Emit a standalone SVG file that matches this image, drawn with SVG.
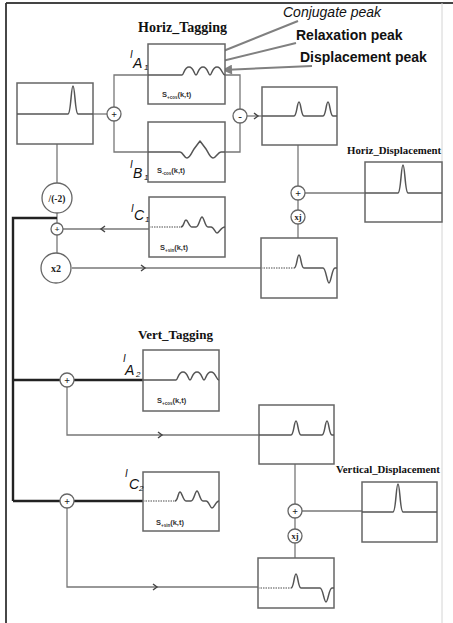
<svg xmlns="http://www.w3.org/2000/svg" width="453" height="623" viewBox="0 0 453 623">
<defs>
<style>
.box{fill:#fff;stroke:#666;stroke-width:1.5}
.sig{fill:none;stroke:#555;stroke-width:1.5;stroke-linejoin:round}
.dot{fill:none;stroke:#888;stroke-width:1.4;stroke-dasharray:1.5 1}
.con{fill:none;stroke:#777;stroke-width:1.3}
.thick{fill:none;stroke:#222;stroke-width:2.4}
.node{fill:#fff;stroke:#666;stroke-width:1.3}
.chev{fill:none;stroke:#444;stroke-width:1.4}
.ptr{fill:none;stroke:#808080;stroke-width:2}
.title{font-family:"Liberation Serif",serif;font-weight:bold;fill:#111}
.lab{font-family:"Liberation Sans",Arial,sans-serif;fill:#111}
.s{font-family:"Liberation Sans",Arial,sans-serif;font-weight:bold;font-size:7.5px;fill:#333}
.sub{font-size:4.5px}
.it{font-family:"Liberation Sans",Arial,sans-serif;font-style:italic;fill:#111}
.nl{font-family:"Liberation Serif",serif;font-weight:bold;fill:#222;text-anchor:middle}
</style>
<marker id="ah" viewBox="0 0 10 10" refX="9" refY="5" markerWidth="12" markerHeight="10" markerUnits="userSpaceOnUse" orient="auto">
<path d="M0,0 L10,5 L0,10 z" fill="#808080"/>
</marker>
</defs>
<rect width="453" height="623" fill="#fff"/>
<g id="frame">
<line x1="6" y1="3" x2="453" y2="3" stroke="#444" stroke-width="1.8"/>
<line x1="6" y1="3" x2="6" y2="623" stroke="#333" stroke-width="1.8"/>
<line x1="442" y1="3" x2="442" y2="623" stroke="#d4d4d4" stroke-width="1"/>
</g>

<g id="connectors">
<path class="con" d="M93,114 H107"/>
<path class="con" d="M114,107 V75 H148"/>
<path class="con" d="M114,121 V152 H148"/>
<path class="con" d="M225,75 H240 V109"/>
<path class="con" d="M225,152 H240 V123"/>
<path class="con" d="M247,116 H262"/>
<polyline class="chev" points="254,113 258,116 254,119"/>
<path class="con" d="M57,144 V183"/>
<path class="con" d="M57,213 V223"/>
<path class="con" d="M57,235 V253"/>
<path class="con" d="M149,229 H63"/>
<polyline class="chev" points="105,226 101,229 105,232"/>
<path class="con" d="M72,268 H261"/>
<polyline class="chev" points="141,265 145,268 141,271"/>
<path class="con" d="M298,145 V186"/>
<path class="con" d="M305,193 H365"/>
<path class="con" d="M298,200 V210"/>
<path class="con" d="M298,224 V238"/>
<path class="thick" d="M57,218 H13 V501"/>
<path class="thick" d="M13,380 H60"/>
<path class="thick" d="M74,380 H143"/>
<path class="thick" d="M13,501 H60"/>
<path class="thick" d="M74,501 H143"/>
<path class="con" d="M67,387 V435 H259"/>
<polyline class="chev" points="158,432 162,435 158,438"/>
<path class="con" d="M67,508 V587 H258"/>
<polyline class="chev" points="153,584 157,587 153,590"/>
<path class="con" d="M295,464 V504"/>
<path class="con" d="M302,511 H362"/>
<path class="con" d="M295,518 V529"/>
<path class="con" d="M295,543 V558"/>
<line class="ptr" x1="298" y1="21" x2="186" y2="66" marker-end="url(#ah)"/>
<line class="ptr" x1="296" y1="43" x2="210" y2="64" marker-end="url(#ah)"/>
<line class="ptr" x1="312" y1="66" x2="223" y2="70" marker-end="url(#ah)"/>
</g>

<g id="input">
<rect class="box" x="17" y="83" width="76" height="61"/>
<path class="sig" d="M17,114 H68 C71,114 71,86 73,86 C75,86 75,114 78,114 H93"/>
</g>

<g id="horiz-A1">
<rect class="box" x="148" y="44" width="77" height="60"/>
<path class="sig" d="M148,75 H182 C184,75 184,67 189,67 C194,67 194,75 196,75 C198,75 198,67 203,67 C208,67 208,75 210,75 C212,75 212,67 217,67 C222,67 222,75 225,75"/>
<text class="s" x="162" y="97">S<tspan class="sub" dy="1.5">+cos</tspan><tspan dy="-1.5">(k,t)</tspan></text>
<text class="it" x="130" y="58" font-size="10">I</text>
<text class="it" x="133" y="68" font-size="14">A</text>
<text class="it" x="144" y="70" font-size="8">1</text>
</g>

<g id="horiz-B1">
<rect class="box" x="148" y="122" width="77" height="60"/>
<path class="sig" d="M148,152 H180 C183,152 184,158 187,158 C190,158 192,152 194,149 L200,141 L206,149 C208,152 210,158 213,158 C216,158 218,152 221,152 H225"/>
<text class="s" x="157" y="173">S<tspan class="sub" dy="1.5">-cos</tspan><tspan dy="-1.5">(k,t)</tspan></text>
<text class="it" x="130" y="168" font-size="10">I</text>
<text class="it" x="133" y="178" font-size="14">B</text>
<text class="it" x="144" y="180" font-size="8">1</text>
</g>

<g id="horiz-C1">
<rect class="box" x="149" y="197" width="76" height="60"/>
<path class="dot" d="M149,227 H181"/>
<path class="sig" d="M181,227 C184,227 184,220 186,220 C188,220 189,227 192,227 H196 C199,227 200,217 202,217 C204,217 205,227 208,227 H211 C214,227 215,233 217,233 C219,233 221,227 225,227"/>
<text class="s" x="160" y="250">S<tspan class="sub" dy="1.5">+sin</tspan><tspan dy="-1.5">(k,t)</tspan></text>
<text class="it" x="131" y="212" font-size="10">I</text>
<text class="it" x="134" y="220" font-size="14">C</text>
<text class="it" x="145" y="222" font-size="8">1</text>
</g>

<g id="horiz-diff">
<rect class="box" x="262" y="87" width="75" height="58"/>
<path class="sig" d="M262,116 H294 C297,116 297,102 299,102 C301,102 301,116 304,116 H323 C326,116 326,102 328,102 C330,102 330,116 333,116 H337"/>
</g>

<g id="horiz-sin">
<rect class="box" x="261" y="238" width="76" height="60"/>
<path class="dot" d="M261,268 H294"/>
<path class="sig" d="M294,268 C297,268 297,255 299,255 C301,255 301,268 304,268 H323 C326,268 327,283 329,283 C331,283 332,268 335,268 H337"/>
</g>

<g id="horiz-disp">
<text class="title" x="347" y="154" font-size="10.8">Horiz_Displacement</text>
<rect class="box" x="365" y="162" width="77" height="60"/>
<path class="sig" d="M365,193 H398 C401,193 401,165 403,165 C405,165 405,193 408,193 H442"/>
</g>

<g id="vert-A2">
<rect class="box" x="143" y="350" width="76" height="61"/>
<path class="sig" d="M143,380 H176 C178,380 178,372 183,372 C188,372 188,380 190,380 C192,380 192,372 197,372 C202,372 202,380 204,380 C206,380 206,372 211,372 C216,372 216,380 219,380"/>
<text class="s" x="157" y="403">S<tspan class="sub" dy="1.5">+cos</tspan><tspan dy="-1.5">(k,t)</tspan></text>
<text class="it" x="123" y="362" font-size="10">I</text>
<text class="it" x="125" y="375" font-size="14">A</text>
<text class="it" x="136" y="377" font-size="8">2</text>
</g>

<g id="vert-C2">
<rect class="box" x="143" y="472" width="76" height="59"/>
<path class="dot" d="M143,501 H175"/>
<path class="sig" d="M175,501 C178,501 178,492 180,492 C182,492 183,501 186,501 H191 C194,501 195,491 197,491 C199,491 200,501 203,501 H206 C209,501 210,508 212,508 C214,508 216,501 219,501"/>
<text class="s" x="156" y="525">S<tspan class="sub" dy="1.5">+sin</tspan><tspan dy="-1.5">(k,t)</tspan></text>
<text class="it" x="125" y="477" font-size="10">I</text>
<text class="it" x="129" y="489" font-size="14">C</text>
<text class="it" x="139" y="491" font-size="8">2</text>
</g>

<g id="vert-sum">
<rect class="box" x="259" y="405" width="75" height="59"/>
<path class="sig" d="M259,435 H291 C294,435 294,421 296,421 C298,421 298,435 301,435 H322 C325,435 325,421 327,421 C329,421 329,435 332,435 H334"/>
</g>

<g id="vert-sin">
<rect class="box" x="258" y="558" width="76" height="50"/>
<path class="dot" d="M258,588 H291"/>
<path class="sig" d="M291,588 C294,588 294,574 296,574 C298,574 298,588 301,588 H320 C323,588 324,602 326,602 C328,602 329,588 332,588 H334"/>
</g>

<g id="vert-disp">
<text class="title" x="336" y="473" font-size="10.8">Vertical_Displacement</text>
<rect class="box" x="362" y="482" width="75" height="60"/>
<path class="sig" d="M362,512 H393 C396,512 396,484 398,484 C400,484 400,512 403,512 H437"/>
</g>

<g id="titles">
<text class="title" x="138" y="32" font-size="14">Horiz_Tagging</text>
<text class="title" x="138" y="339" font-size="13">Vert_Tagging</text>
<text class="lab" x="283" y="17" font-size="14" font-style="italic">Conjugate peak</text>
<text class="lab" x="296" y="40" font-size="14" font-weight="bold">Relaxation peak</text>
<text class="lab" x="300" y="62" font-size="14" font-weight="bold">Displacement peak</text>
</g>

<g id="n-sum1"><circle class="node" cx="114" cy="114" r="7"/><text class="nl" x="114" y="117.5" font-size="10">+</text></g>
<g id="n-minus"><circle class="node" cx="240" cy="116" r="7"/><text class="nl" x="240" y="119.5" font-size="11">-</text></g>
<g id="n-div"><circle class="node" cx="57" cy="198" r="15"/><text class="nl" x="57" y="201.5" font-size="9.5">/(-2)</text></g>
<g id="n-sumc"><circle class="node" cx="57" cy="229" r="6"/><text class="nl" x="57" y="232" font-size="9">+</text></g>
<g id="n-x2"><circle class="node" cx="56" cy="268" r="15"/><text class="nl" x="56" y="271.5" font-size="10">x2</text></g>
<g id="n-plush"><circle class="node" cx="298" cy="193" r="7"/><text class="nl" x="298" y="196.5" font-size="10">+</text></g>
<g id="n-xjh"><circle class="node" cx="298" cy="217" r="7"/><text class="nl" x="298" y="220" font-size="8.5">xj</text></g>
<g id="n-sumA2"><circle class="node" cx="67" cy="380" r="7"/><text class="nl" x="67" y="383.5" font-size="10">+</text></g>
<g id="n-sumC2"><circle class="node" cx="67" cy="501" r="7"/><text class="nl" x="67" y="504.5" font-size="10">+</text></g>
<g id="n-plusv"><circle class="node" cx="295" cy="511" r="7"/><text class="nl" x="295" y="514.5" font-size="10">+</text></g>
<g id="n-xjv"><circle class="node" cx="295" cy="536" r="7"/><text class="nl" x="295" y="539" font-size="8.5">xj</text></g>
</svg>
